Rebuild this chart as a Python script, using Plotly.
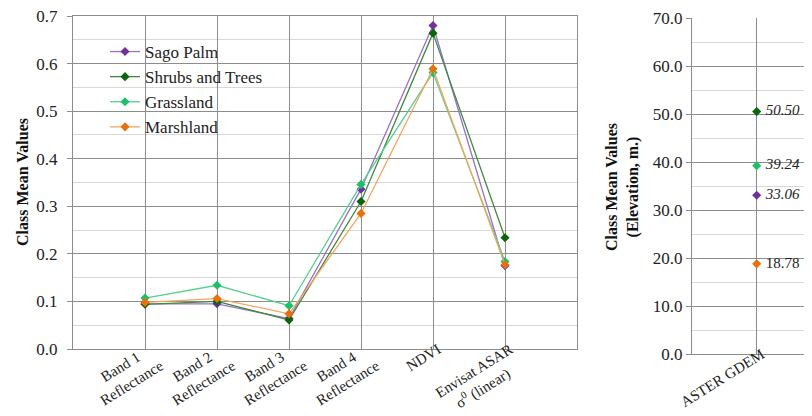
import plotly.graph_objects as go

categories = ["Band 1<br>Reflectance", "Band 2<br>Reflectance", "Band 3<br>Reflectance",
              "Band 4<br>Reflectance", "NDVI", "Envisat ASAR<br>σ<sup>0</sup> (linear)"]
series_names = ["Sago Palm", "Shrubs and Trees", "Grassland", "Marshland"]
sago_palm = [0.095, 0.095, 0.064, 0.336, 0.680, 0.175]
shrubs_trees = [0.094, 0.100, 0.061, 0.310, 0.664, 0.234]
grassland = [0.107, 0.134, 0.091, 0.346, 0.581, 0.184]
marshland = [0.098, 0.106, 0.074, 0.285, 0.589, 0.177]
dem_category = ["ASTER GDEM"]
dem_values = [33.06, 50.50, 39.24, 18.78]
dem_labels = ["<i>33.06</i>", "<i>50.50</i>", "<i>39.24</i>", "18.78"]

marker_colors = ["#7030a0", "#0b650b", "#1fbf6a", "#e8700f"]
line_colors = ["#9a70c8", "#3f8a3f", "#55d08f", "#f4a460"]

# approximate Times glyph widths (per em) to left-align multi-line rotated labels
_W = {" ": .25, "B": .667, "a": .444, "n": .5, "d": .5, "R": .667, "e": .444, "f": .333,
      "l": .278, "c": .444, "t": .278, "E": .611, "v": .5, "i": .278, "s": .389, "A": .722,
      "S": .556, "N": .722, "D": .722, "V": .722, "I": .333, "(": .333, ")": .333, "r": .333,
      "σ": .55, "0": .35}


def _width(s):
    s = s.replace("<sup>", "").replace("</sup>", "")
    return sum(_W.get(ch, .5) for ch in s)


def left_align(label, unit=.5):
    lines = label.split("<br>")
    if len(lines) == 1:
        return label
    mx = max(_width(l) for l in lines)
    out = [l + "\u00a0" * int(round((mx - _width(l)) / unit)) for l in lines]
    return "<br>".join(out)


FONT = "Liberation Serif"
W, H = 812, 416
OFF = 8  # page body margin in the browser


def fx(p):
    return (p - OFF) / W


def fy(p):
    return 1 - (p - OFF) / H


fig = go.Figure()
xs = list(range(1, len(categories) + 1))
for name, vals, mc, lc in zip(series_names, [sago_palm, shrubs_trees, grassland, marshland],
                              marker_colors, line_colors):
    fig.add_trace(go.Scatter(x=xs, y=vals, name=name, mode="lines+markers",
                             line=dict(color=lc, width=1.3),
                             marker=dict(symbol="diamond", size=7, color=mc),
                             xaxis="x", yaxis="y"))

for name, v, lab, mc in zip(series_names, dem_values, dem_labels, marker_colors):
    fig.add_trace(go.Scatter(x=[1], y=[v], mode="markers+text", text=["\u00a0" + lab],
                             textposition="middle right", cliponaxis=False,
                             textfont=dict(family=FONT, size=15, color="#222"),
                             marker=dict(symbol="diamond", size=7, color=mc),
                             showlegend=False, xaxis="x2", yaxis="y2", name=name))

gridmaj = "#8c8c8c"
gridmin = "#d9d9d9"
tickfont = dict(family=FONT, size=17, color="#222")
catfont = dict(family=FONT, size=15, color="#222")

fig.update_layout(
    width=W, height=H, margin=dict(l=0, r=0, t=0, b=0, autoexpand=False),
    paper_bgcolor="white", plot_bgcolor="white",
    font=dict(family=FONT, size=17, color="#222"),
    showlegend=True,
    legend=dict(x=fx(105), y=fy(34), xanchor="left", yanchor="top",
                bgcolor="rgba(255,255,255,0)", font=dict(family=FONT, size=17, color="#222"),
                itemwidth=30, tracegroupgap=0),
    xaxis=dict(domain=[fx(73), fx(577)], range=[0, 7], tickmode="array",
               tickvals=xs, ticktext=[left_align(c) for c in categories], tickangle=-32,
               automargin=False, tickfont=catfont, ticklabelshift=5, ticklabelstandoff=-15,
               ticklabeloverflow="allow",
               showgrid=True, gridcolor=gridmaj, gridwidth=1,
               showline=True, linecolor=gridmaj, mirror=True, ticks="", zeroline=False),
    yaxis=dict(domain=[fy(349), fy(16)], range=[0, 0.7], dtick=0.1,
               tickformat=".1f", tickfont=tickfont, automargin=False, ticklabelstandoff=6,
               ticklabeloverflow="allow",
               showgrid=True, gridcolor=gridmaj, gridwidth=1,
               minor=dict(dtick=0.05, showgrid=True, gridcolor=gridmin, ticks=""),
               showline=True, linecolor=gridmaj, mirror=True,
               ticks="outside", ticklen=5, tickcolor=gridmaj, zeroline=False),
    xaxis2=dict(domain=[fx(692), 1.0], range=[0, (812 + OFF - 692) / (756.7 - 692)],
                tickmode="array", tickvals=[1], ticktext=dem_category, tickangle=-32,
                tickfont=catfont, automargin=False, ticklabelshift=5, ticklabelstandoff=-15,
                ticklabeloverflow="allow",
                showgrid=True, gridcolor=gridmaj, showline=True, linecolor=gridmaj,
                ticks="", zeroline=False, anchor="y2"),
    yaxis2=dict(domain=[fy(354), fy(18)], range=[0, 70], dtick=10,
                tickformat=".1f", tickfont=tickfont, anchor="x2", automargin=False,
                ticklabeloverflow="allow",
                showgrid=True, gridcolor=gridmaj,
                minor=dict(dtick=5, showgrid=True, gridcolor=gridmin, ticks=""),
                showline=True, linecolor=gridmaj,
                ticks="outside", ticklen=5, tickcolor=gridmaj, zeroline=False),
    shapes=[dict(type="rect", xref="paper", yref="paper", layer="below",
                 x0=fx(116), x1=fx(264), y0=fy(146), y1=fy(34),
                 fillcolor="white", line=dict(width=0))],
    annotations=[
        dict(text="<b>Class Mean Values</b>", x=fx(22), y=fy(182), xref="paper", yref="paper",
             textangle=-90, showarrow=False, font=dict(family=FONT, size=16, color="#111"),
             xanchor="center", yanchor="middle"),
        dict(text="<b>Class Mean Values<br>(Elevation, m.)</b>", x=fx(622), y=fy(187),
             xref="paper", yref="paper", textangle=-90, showarrow=False,
             font=dict(family=FONT, size=16, color="#111"), xanchor="center", yanchor="middle"),
    ],
)

fig.write_html("out.html")
